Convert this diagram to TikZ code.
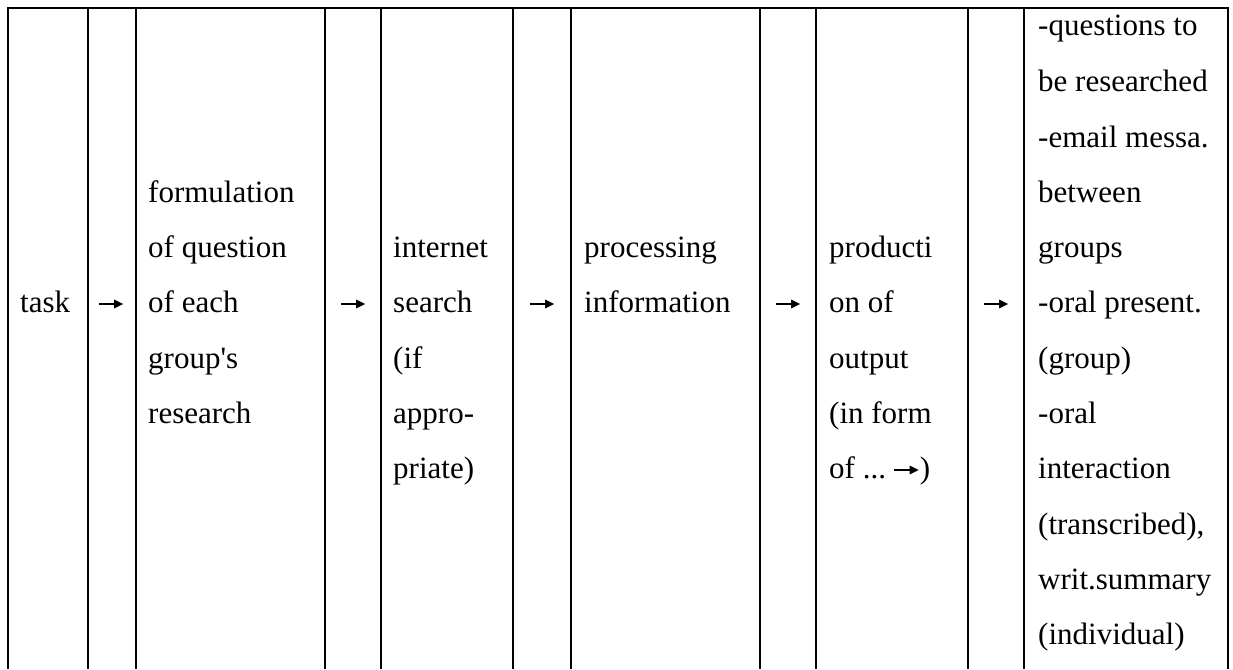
\documentclass[tikz,border=0pt]{standalone}
\usepackage{fontspec}
\setmainfont{Liberation Serif}
\usetikzlibrary{arrows.meta}
\tikzset{
  rulestyle/.style={line width=2.7pt, line join=miter},
  txt/.style={anchor=base west, inner sep=0pt, font=\fontsize{31pt}{55pt}\selectfont},
  arrcell/.style={inner sep=0pt, minimum width=24pt, minimum height=2pt},
  arr/.style={line width=1.6pt, -{Triangle[length=9pt,width=8.5pt]}}
}
\begin{document}
\begin{tikzpicture}[x=1pt,y=-1pt]
\useasboundingbox (0,0) rectangle (1233,669);
% table rules
\draw[rulestyle] (8,669) -- (8,8) -- (1228,8) -- (1228,669);
\draw[rulestyle] (88,8) -- (88,669);
\draw[rulestyle] (136,8) -- (136,669);
\draw[rulestyle] (325,8) -- (325,669);
\draw[rulestyle] (381,8) -- (381,669);
\draw[rulestyle] (513,8) -- (513,669);
\draw[rulestyle] (571,8) -- (571,669);
\draw[rulestyle] (760,8) -- (760,669);
\draw[rulestyle] (816,8) -- (816,669);
\draw[rulestyle] (968,8) -- (968,669);
\draw[rulestyle] (1024,8) -- (1024,669);
% column 1
\node[txt] (task) at (20,312) {task};
% column 2
\node[txt] (f1) at (148,202) {formulation};
\node[txt] (f2) at (148,257) {of question};
\node[txt] (f3) at (148,312) {of each};
\node[txt] (f4) at (148,368) {group\textquotesingle s};
\node[txt] (f5) at (148,423) {research};
% column 3
\node[txt] (s1) at (393,257) {internet};
\node[txt] (s2) at (393,312) {search};
\node[txt] (s3) at (393,368) {(if};
\node[txt] (s4) at (393,423) {appro-};
\node[txt] (s5) at (393,478) {priate)};
% column 4
\node[txt] (p1) at (584,257) {processing};
\node[txt] (p2) at (584,312) {information};
% column 5
\node[txt] (o1) at (829,257) {producti};
\node[txt] (o2) at (829,312) {on of};
\node[txt] (o3) at (829,368) {output};
\node[txt] (o4) at (829,423) {(in form};
\node[txt] (o5) at (829,478) {of ...};
\node[arrcell, anchor=west] (oa) at ([xshift=8pt,yshift=8pt]o5.base east) {};
\node[txt] (o6) at ([xshift=1pt]oa.east |- o5.base) {)};
\draw[arr] (oa.west) -- (oa.east);
% column 6
\node[txt] (r1) at (1038,36) {-questions to};
\node[txt] (r2) at (1038,91) {be researched};
\node[txt] (r3) at (1038,147) {-email messa.};
\node[txt] (r4) at (1038,202) {between};
\node[txt] (r5) at (1038,257) {groups};
\node[txt] (r6) at (1038,312) {-oral present.};
\node[txt] (r7) at (1038,368) {(group)};
\node[txt] (r8) at (1038,423) {-oral};
\node[txt] (r9) at (1038,478) {interaction};
\node[txt] (r10) at (1038,534) {(transcribed),};
\node[txt] (r11) at (1038,589) {writ.summary};
\node[txt] (r12) at (1038,644) {(individual)};
% arrows
\node[arrcell] (a1) at (111,304) {};
\node[arrcell] (a2) at (353,304) {};
\node[arrcell] (a3) at (542,304) {};
\node[arrcell] (a4) at (788,304) {};
\node[arrcell] (a5) at (996,304) {};
\draw[arr] (a1.west) -- (a1.east);
\draw[arr] (a2.west) -- (a2.east);
\draw[arr] (a3.west) -- (a3.east);
\draw[arr] (a4.west) -- (a4.east);
\draw[arr] (a5.west) -- (a5.east);
\end{tikzpicture}
\end{document}
